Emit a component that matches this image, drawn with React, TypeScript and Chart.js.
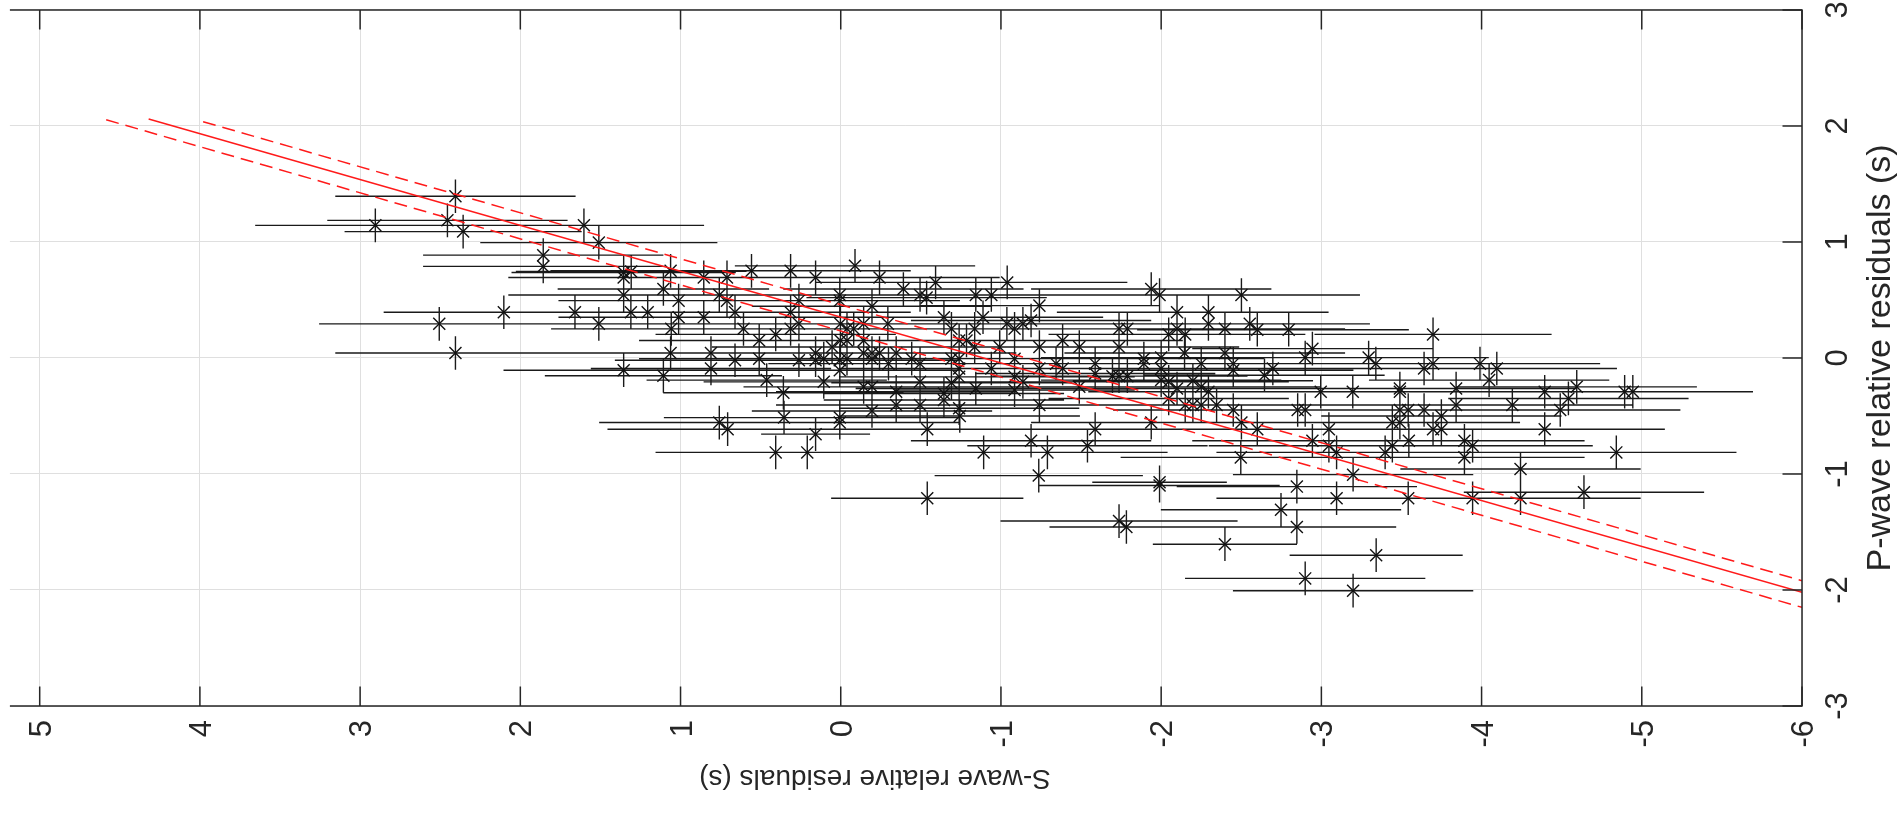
import React, { useEffect, useRef } from "react";
import { Chart, registerables } from "chart.js";

Chart.register(...registerables);

// ---------- axes ----------
const X_TICKS = [-6, -5, -4, -3, -2, -1, 0, 1, 2, 3, 4, 5];
const Y_TICKS = [-3, -2, -1, 0, 1, 2, 3];
const X_MIN = -6;
const X_MAX = 5.186;
const Y_MIN = -3;
const Y_MAX = 3;
const X_TITLE = "S-wave relative residuals (s)";
const Y_TITLE = "P-wave relative residuals (s)";

// P-wave (vertical) error half-width, same for every event
const P_ERR = 0.145;

// ---------- data: [S-wave residual, P-wave residual, S-wave error half-width] ----------
const groupWest = [
  [2.405, 1.394, 0.75], [2.905, 1.143, 0.75], [2.455, 1.186, 0.75], [2.357, 1.089, 0.74],
  [1.603, 1.143, 0.75], [1.51, 0.994, 0.74], [1.857, 0.886, 0.75], [1.857, 0.789, 0.75],
  [1.355, 0.737, 0.7], [1.308, 0.746, 0.72], [1.355, 0.694, 0.72], [1.107, 0.594, 0.66],
  [1.355, 0.543, 0.72], [2.103, 0.394, 0.75], [1.659, 0.394, 0.75], [1.31, 0.394, 0.75],
  [1.205, 0.394, 0.75], [2.506, 0.294, 0.75], [1.51, 0.294, 0.75], [2.405, 0.043, 0.75],
  [1.355, -0.106, 0.75], [1.107, -0.154, 0.74],
];

const groupCentreUpper = [
  [1.062, 0.751, 0.75], [0.855, 0.694, 0.75], [0.71, 0.694, 0.75], [0.557, 0.751, 0.75],
  [0.313, 0.751, 0.75], [0.157, 0.694, 0.75], [-0.089, 0.794, 0.75], [-0.242, 0.694, 0.75],
  [-0.391, 0.594, 0.75], [-0.495, 0.543, 0.75], [-0.536, 0.52, 0.75], [-0.592, 0.651, 0.75],
  [-0.843, 0.543, 0.75], [-0.94, 0.543, 0.75], [-1.039, 0.651, 0.75], [-1.24, 0.451, 0.75],
  [-1.938, 0.594, 0.75], [-1.99, 0.543, 0.75],
  [1.012, 0.494, 0.75], [0.758, 0.543, 0.75], [0.71, 0.494, 0.75], [0.66, 0.394, 0.75],
  [0.313, 0.394, 0.75], [0.261, 0.494, 0.75], [0.006, 0.543, 0.75], [0.006, 0.494, 0.75],
  [-0.195, 0.446, 0.75],
  [1.012, 0.351, 0.75], [0.855, 0.351, 0.75], [1.058, 0.251, 0.75], [0.607, 0.251, 0.75],
  [0.406, 0.203, 0.75], [0.313, 0.251, 0.75], [0.261, 0.294, 0.75], [0.509, 0.151, 0.75],
  [0.002, 0.294, 0.75], [-0.039, 0.251, 0.75], [-0.081, 0.251, 0.75], [-0.143, 0.294, 0.75],
  [0.002, 0.151, 0.75], [-0.039, 0.151, 0.75], [-0.143, 0.151, 0.75], [-0.294, 0.294, 0.75],
  [-0.644, 0.351, 0.75], [-0.691, 0.251, 0.75], [-0.739, 0.151, 0.75], [-0.785, 0.151, 0.75],
  [-0.836, 0.251, 0.75], [-0.888, 0.351, 0.75], [-1.037, 0.294, 0.75], [-1.085, 0.251, 0.75],
  [-1.137, 0.294, 0.75], [-1.188, 0.323, 0.75], [-1.385, 0.151, 0.75], [-1.489, 0.094, 0.75],
  [-1.24, 0.094, 0.75], [-1.737, 0.251, 0.75], [-1.789, 0.251, 0.75], [-1.737, 0.094, 0.75],
  [-0.992, 0.094, 0.75], [-0.836, 0.094, 0.75],
];

const groupCentreMiddle = [
  [1.062, 0.043, 0.75], [0.81, 0.043, 0.75], [0.81, -0.091, 0.75], [0.66, -0.02, 0.75],
  [0.509, -0.006, 0.75], [0.261, -0.02, 0.75], [0.157, 0.043, 0.75], [0.157, -0.02, 0.75],
  [0.106, -0.006, 0.75], [0.054, 0.094, 0.75], [0.006, -0.02, 0.75], [0.006, -0.106, 0.75],
  [-0.039, -0.006, 0.75], [-0.143, 0.043, 0.75], [-0.195, 0.043, 0.75], [-0.195, -0.006, 0.75],
  [-0.242, 0.043, 0.75], [-0.346, 0.043, 0.75], [-0.443, -0.006, 0.75], [-0.495, -0.049, 0.75],
  [-0.298, -0.049, 0.75], [-0.691, -0.006, 0.75], [-0.739, -0.006, 0.75], [-0.739, -0.091, 0.75],
  [-0.94, -0.091, 0.75], [-1.085, -0.006, 0.75], [-1.085, -0.163, 0.75], [-1.137, -0.206, 0.75],
  [-1.24, -0.091, 0.75], [-1.344, -0.049, 0.75], [-1.385, -0.091, 0.75], [-1.588, -0.049, 0.75],
  [-1.588, -0.134, 0.75], [-1.696, -0.157, 0.75], [-1.737, -0.157, 0.75], [-1.789, -0.157, 0.75],
  [-1.892, -0.006, 0.75], [-1.892, -0.049, 0.75], [-1.489, -0.249, 0.75],
  [0.462, -0.191, 0.75], [0.358, -0.3, 0.75], [0.106, -0.206, 0.75], [-0.143, -0.249, 0.75],
  [-0.195, -0.249, 0.75], [-0.346, -0.291, 0.75], [-0.346, -0.406, 0.75], [-0.495, -0.206, 0.75],
  [-0.495, -0.406, 0.75], [-0.644, -0.306, 0.75], [-0.644, -0.363, 0.75], [-0.691, -0.214, 0.75],
  [-0.739, -0.163, 0.75], [-0.739, -0.434, 0.75], [-0.843, -0.263, 0.75], [-1.085, -0.277, 0.75],
  [-1.24, -0.406, 0.75],
];

const groupCentreLower = [
  [0.758, -0.557, 0.75], [0.706, -0.614, 0.75], [0.354, -0.514, 0.75], [0.006, -0.514, 0.75],
  [0.006, -0.557, 0.75], [0.157, -0.657, 0.34], [0.406, -0.814, 0.75], [0.209, -0.814, 0.75],
  [-0.195, -0.457, 0.75], [-0.743, -0.5, 0.75], [-0.54, -0.614, 0.75], [-1.188, -0.714, 0.75],
  [-1.29, -0.814, 0.75], [-0.892, -0.814, 0.75], [-1.54, -0.757, 0.75], [-1.588, -0.614, 0.75],
  [-1.938, -0.557, 0.75], [-1.236, -1.014, 0.65], [-1.99, -1.071, 0.42], [-1.99, -1.1, 0.75],
  [-0.54, -1.209, 0.6], [-1.737, -1.406, 0.74], [-1.783, -1.457, 0.48],
];

const groupEastUpper = [
  [-2.501, 0.543, 0.74], [-2.099, 0.394, 0.75], [-2.295, 0.394, 0.75], [-2.295, 0.294, 0.75],
  [-2.047, 0.203, 0.75], [-2.099, 0.251, 0.75], [-2.15, 0.203, 0.75], [-2.398, 0.251, 0.75],
  [-2.553, 0.294, 0.75], [-2.6, 0.243, 0.75], [-2.796, 0.243, 0.75], [-3.697, 0.203, 0.74],
  [-2.944, 0.08, 0.75], [-2.899, 0.003, 0.75], [-2.0, 0.003, 0.75], [-2.0, -0.091, 0.75],
  [-2.146, 0.043, 0.75], [-2.25, -0.049, 0.75], [-2.398, 0.043, 0.75], [-2.45, -0.049, 0.75],
  [-2.45, -0.106, 0.75], [-2.645, -0.149, 0.75], [-2.697, -0.091, 0.75], [-3.295, 0.003, 0.75],
  [-3.34, -0.049, 0.75], [-3.641, -0.091, 0.75], [-3.697, -0.049, 0.75], [-3.99, -0.049, 0.75],
  [-4.095, -0.091, 0.75], [-4.047, -0.191, 0.75], [-2.0, -0.191, 0.75], [-2.047, -0.206, 0.75],
  [-2.099, -0.263, 0.75], [-2.198, -0.197, 0.75], [-2.25, -0.249, 0.75], [-2.295, -0.291, 0.75],
  [-2.047, -0.349, 0.75], [-2.15, -0.406, 0.75], [-2.198, -0.406, 0.75], [-2.25, -0.406, 0.75],
  [-2.346, -0.406, 0.75], [-2.45, -0.449, 0.75], [-2.996, -0.291, 0.75], [-3.196, -0.291, 0.75],
  [-3.49, -0.263, 0.75], [-3.49, -0.291, 0.75], [-3.841, -0.263, 0.75], [-3.841, -0.406, 0.75],
  [-4.394, -0.291, 0.75], [-4.594, -0.249, 0.75], [-4.542, -0.349, 0.75], [-4.893, -0.291, 0.75],
  [-4.944, -0.291, 0.75], [-4.192, -0.406, 0.75], [-4.491, -0.449, 0.75], [-2.852, -0.449, 0.75],
  [-2.899, -0.449, 0.75], [-3.49, -0.449, 0.75], [-3.542, -0.449, 0.75], [-3.641, -0.449, 0.75],
];

const groupEastLower = [
  [-2.847, -1.109, 0.75], [-3.095, -1.209, 0.75], [-3.542, -1.209, 0.75], [-3.944, -1.209, 0.75],
  [-4.243, -1.209, 0.75], [-4.639, -1.157, 0.75], [-4.243, -0.957, 0.75], [-4.841, -0.814, 0.75],
  [-2.748, -1.309, 0.75], [-2.847, -1.457, 0.62], [-2.398, -1.606, 0.45], [-3.342, -1.7, 0.54],
  [-2.899, -1.9, 0.75], [-3.198, -2.006, 0.75], [-3.198, -1.006, 0.75], [-2.497, -0.857, 0.75],
  [-2.944, -0.714, 0.75], [-3.047, -0.757, 0.75], [-3.095, -0.814, 0.75], [-3.047, -0.614, 0.75],
  [-3.398, -0.814, 0.75], [-3.443, -0.757, 0.75], [-3.546, -0.714, 0.75], [-3.893, -0.714, 0.75],
  [-3.944, -0.757, 0.75], [-3.893, -0.857, 0.75], [-4.394, -0.614, 0.75], [-3.697, -0.614, 0.75],
  [-3.749, -0.614, 0.75], [-3.443, -0.557, 0.75], [-3.49, -0.557, 0.75], [-2.6, -0.614, 0.75],
  [-2.501, -0.557, 0.75], [-3.749, -0.5, 0.75],
];

// ---------- regression line and its confidence bounds (endpoints) ----------
const fitLine = [
  { x: 4.32, y: 2.06 },
  { x: -6, y: -2.02 },
];
const upperBound = [
  { x: 3.98, y: 2.036 },
  { x: -6, y: -1.92 },
];
const lowerBound = [
  { x: 4.585, y: 2.053 },
  { x: -6, y: -2.15 },
];

const ALL_GROUPS = [
  groupWest,
  groupCentreUpper,
  groupCentreMiddle,
  groupCentreLower,
  groupEastUpper,
  groupEastLower,
];

const FONT = '"Liberation Sans", Arial, Helvetica, sans-serif';
const AXIS_COLOR = "#262626";

export default function App() {
  const canvasRef = useRef<HTMLCanvasElement | null>(null);

  useEffect(() => {
    const canvas = canvasRef.current;
    if (!canvas) return;

    const rows: number[][] = [];
    ALL_GROUPS.forEach((g) => g.forEach((r) => rows.push(r)));
    const points = rows.map((r) => ({ x: r[0], y: r[1], e: r[2] }));

    const errorBarPlugin = {
      id: "errorBars",
      beforeDatasetsDraw(chart: any) {
        const { ctx, chartArea, scales } = chart;
        const xs = scales.x;
        const ys = scales.y;
        ctx.save();
        ctx.beginPath();
        ctx.rect(chartArea.left, chartArea.top, chartArea.right - chartArea.left, chartArea.bottom - chartArea.top);
        ctx.clip();
        ctx.strokeStyle = "#1a1a1a";
        ctx.lineWidth = 1.4;
        ctx.beginPath();
        points.forEach((p) => {
          const px = xs.getPixelForValue(p.x);
          const py = ys.getPixelForValue(p.y);
          const x1 = xs.getPixelForValue(p.x - p.e);
          const x2 = xs.getPixelForValue(p.x + p.e);
          const y1 = ys.getPixelForValue(p.y - P_ERR);
          const y2 = ys.getPixelForValue(p.y + P_ERR);
          ctx.moveTo(x1, py);
          ctx.lineTo(x2, py);
          ctx.moveTo(px, y1);
          ctx.lineTo(px, y2);
        });
        ctx.stroke();
        ctx.restore();
      },
    };

    const framePlugin = {
      id: "frame",
      afterDraw(chart: any) {
        const { ctx, chartArea, scales } = chart;
        const xs = scales.x;
        const ys = scales.y;
        const { left, right, top, bottom } = chartArea;
        const TICK = 19.5;
        ctx.save();
        ctx.strokeStyle = AXIS_COLOR;
        ctx.lineWidth = 1.5;
        // box (left side lies outside the picture)
        ctx.beginPath();
        ctx.moveTo(left, top);
        ctx.lineTo(right, top);
        ctx.lineTo(right, bottom);
        ctx.lineTo(left, bottom);
        ctx.stroke();
        // tick marks, inside
        ctx.beginPath();
        X_TICKS.forEach((v) => {
          const px = xs.getPixelForValue(v);
          ctx.moveTo(px, bottom);
          ctx.lineTo(px, bottom - TICK);
          ctx.moveTo(px, top);
          ctx.lineTo(px, top + TICK);
        });
        Y_TICKS.forEach((v) => {
          const py = ys.getPixelForValue(v);
          ctx.moveTo(right, py);
          ctx.lineTo(right - TICK, py);
        });
        ctx.stroke();

        ctx.fillStyle = AXIS_COLOR;
        // x tick labels, rotated -90deg
        ctx.font = `31px ${FONT}`;
        ctx.textBaseline = "alphabetic";
        X_TICKS.forEach((v) => {
          const px = xs.getPixelForValue(v);
          ctx.save();
          ctx.translate(px + 11, bottom + 14);
          ctx.rotate(-Math.PI / 2);
          ctx.textAlign = "right";
          ctx.fillText(String(v), 0, 0);
          ctx.restore();
        });
        // y tick labels on the right, rotated -90deg
        Y_TICKS.forEach((v) => {
          const py = ys.getPixelForValue(v);
          ctx.save();
          ctx.translate(right + 45, py);
          ctx.rotate(-Math.PI / 2);
          ctx.textAlign = "center";
          ctx.fillText(String(v), 0, 0);
          ctx.restore();
        });
        // x title, upside down
        ctx.save();
        ctx.font = `28px ${FONT}`;
        ctx.translate(875, 770);
        ctx.rotate(Math.PI);
        ctx.textAlign = "center";
        ctx.fillText(X_TITLE, 0, 0);
        ctx.restore();
        // y title on right, rotated -90deg
        ctx.save();
        ctx.font = `34px ${FONT}`;
        ctx.translate(1890, (top + bottom) / 2);
        ctx.rotate(-Math.PI / 2);
        ctx.textAlign = "center";
        ctx.fillText(Y_TITLE, 0, 0);
        ctx.restore();
        ctx.restore();
      },
    };

    const chart = new Chart(canvas, {
      type: "scatter",
      data: {
        datasets: [
          {
            type: "line",
            data: fitLine,
            borderColor: "#ff1a1a",
            borderWidth: 1.5,
            pointRadius: 0,
            fill: false,
            tension: 0,
            order: 1,
          },
          {
            type: "line",
            data: upperBound,
            borderColor: "#ff1a1a",
            borderWidth: 1.5,
            borderDash: [13, 7],
            pointRadius: 0,
            fill: false,
            tension: 0,
            order: 1,
          },
          {
            type: "line",
            data: lowerBound,
            borderColor: "#ff1a1a",
            borderWidth: 1.5,
            borderDash: [13, 7],
            pointRadius: 0,
            fill: false,
            tension: 0,
            order: 1,
          },
          {
            type: "scatter",
            data: points.map((p) => ({ x: p.x, y: p.y })),
            pointStyle: "crossRot",
            pointRadius: 8.5,
            borderWidth: 1.4,
            borderColor: "#111111",
            backgroundColor: "rgba(0,0,0,0)",
            order: 2,
          },
        ],
      } as any,
      options: {
        animation: false,
        responsive: false,
        events: [],
        layout: { padding: { left: 0, top: 9, right: 98, bottom: 113 } },
        plugins: {
          legend: { display: false },
          tooltip: { enabled: false },
          title: { display: false },
        },
        scales: {
          x: {
            type: "linear",
            reverse: true,
            min: X_MIN,
            max: X_MAX,
            ticks: { display: false, stepSize: 1, includeBounds: false },
            grid: { color: "#dfdfdf", lineWidth: 1, drawTicks: false },
            border: { display: false },
          },
          y: {
            type: "linear",
            position: "right",
            min: Y_MIN,
            max: Y_MAX,
            ticks: { display: false, stepSize: 1 },
            grid: { color: "#dfdfdf", lineWidth: 1, drawTicks: false },
            border: { display: false },
          },
        },
      } as any,
      plugins: [errorBarPlugin, framePlugin],
    });

    return () => chart.destroy();
  }, []);

  return (
    <div style={{ position: "fixed", left: 0, top: 0, width: 1900, height: 819, background: "#fff" }}>
      <canvas ref={canvasRef} width={1900} height={819} />
    </div>
  );
}
